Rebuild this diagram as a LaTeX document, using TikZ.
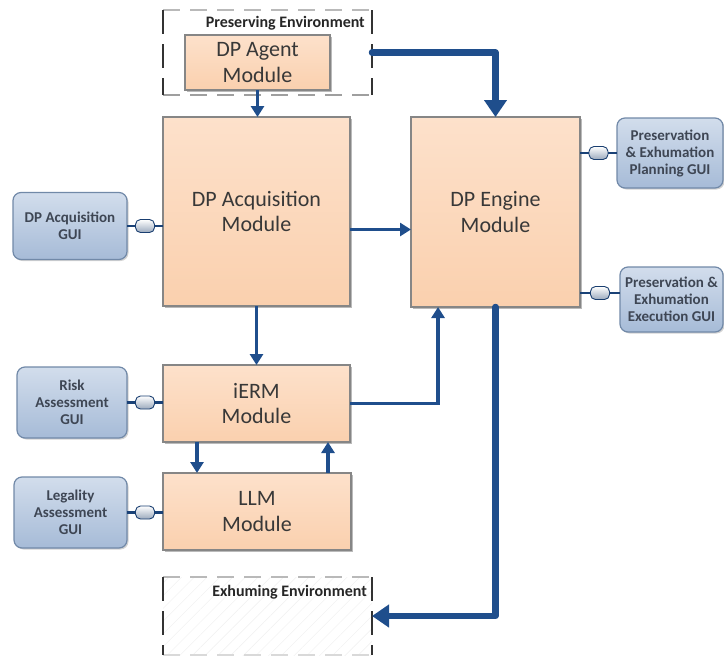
\documentclass[tikz,border=0pt]{standalone}
\usepackage{fontspec}
\setmainfont{Carlito}
\usetikzlibrary{arrows.meta,calc,shadows,patterns.meta}

\definecolor{modfill}{HTML}{FAD0AE}
\definecolor{modtop}{HTML}{FDE1CB}
\definecolor{modedge}{HTML}{868686}
\definecolor{guitop}{HTML}{D2DDEC}
\definecolor{guibot}{HTML}{A6BBD7}
\definecolor{guiedge}{HTML}{7189A8}
\definecolor{flow}{HTML}{1F4E8C}
\definecolor{txt}{HTML}{383838}
\definecolor{guitxt}{HTML}{3E4654}

\tikzset{
  module/.style={draw=modedge, line width=1.2pt, top color=modtop, bottom color=modfill,
    text=txt, align=center, inner sep=0pt, outer sep=0pt,
    font=\fontsize{22}{25.5}\selectfont,
    drop shadow={shadow xshift=1.8pt, shadow yshift=-1.8pt, fill=black!60, opacity=0.45}},
  gui/.style={draw=guiedge, line width=1.2pt, rounded corners=8pt, top color=guitop,
    bottom color=guibot, text=guitxt, align=center, inner sep=0pt, outer sep=0pt,
    font=\bfseries\fontsize{15}{17}\selectfont,
    drop shadow={shadow xshift=1.5pt, shadow yshift=-1.5pt, fill=black!50, opacity=0.35}},
  flowarrow/.style={draw=flow, line width=3.2pt, -{Triangle[length=11pt,width=13pt]}},
  bigflow/.style={draw=flow, line width=6.5pt, line join=round, line cap=round,
    -{Triangle[length=17pt,width=22pt]}},
  plug/.style={draw=flow!85!black, line width=2.6pt},
  socket/.style={draw=flow!80!black, line width=0.9pt, rounded corners=5pt,
    top color=white, bottom color=guibot!70!gray, minimum width=19pt,
    minimum height=13pt, inner sep=0pt},
  envlabel/.style={font=\bfseries\fontsize{16}{18}\selectfont, text=black!85,
    anchor=east, inner sep=0pt},
  envtopedge/.style={draw=gray!55, line width=2pt, dash pattern=on 17pt off 10pt},
  envside/.style={draw=black!80, line width=1.3pt, dash pattern=on 24pt off 10pt},
  envframe/.style={draw=none, inner sep=0pt, outer sep=0pt},
}

\begin{document}
\begin{tikzpicture}[x=1pt,y=-1pt]
  \useasboundingbox (0,0) rectangle (724,657);

  % environments (dashed frames)
  \node[envframe, minimum width=209pt, minimum height=85pt] (preserve) at (267.5,52.5) {};
  \draw[envtopedge] (preserve.north west) -- (preserve.north east);
  \draw[envtopedge, draw=gray!75] (preserve.south west) -- (preserve.south east);
  \draw[envside] (preserve.north west) -- (preserve.south west);
  \draw[envside] (preserve.north east) -- (preserve.south east);
  \node[envlabel] (preslabel) at (365,23) {Preserving Environment};

  \node[envframe, minimum width=209pt, minimum height=78pt,
        pattern={Lines[angle=45,distance=9pt,line width=0.6pt]}, pattern color=gray!10]
        (exhume) at (267.5,616) {};
  \draw[envtopedge] (exhume.north west) -- (exhume.north east);
  \draw[envtopedge, draw=gray!30] (exhume.south west) -- (exhume.south east);
  \draw[envside] (exhume.north west) -- (exhume.south west);
  \draw[envside] (exhume.north east) -- (exhume.south east);
  \node[envlabel] (exhlabel) at (367,592) {Exhuming Environment};

  % modules
  \node[module, minimum width=145pt, minimum height=55pt] (agent) at (257.5,62.5) {DP Agent\\Module};
  \node[module, minimum width=187pt, minimum height=189pt] (acq) at (256.5,211.5) {DP Acquisition\\Module};
  \node[module, minimum width=169pt, minimum height=190pt] (engine) at (495.5,212) {DP Engine\\Module};
  \node[module, minimum width=187pt, minimum height=77pt] (ierm) at (256.5,403.5) {iERM\\Module};
  \node[module, minimum width=188pt, minimum height=77pt] (llm) at (257,511.5) {LLM\\Module};

  % user interfaces
  \node[gui, minimum width=114pt, minimum height=67pt] (guiacq) at (70,226) {DP Acquisition\\GUI};
  \node[gui, minimum width=110pt, minimum height=71pt] (guirisk) at (72,402.5) {Risk\\Assessment\\GUI};
  \node[gui, minimum width=113pt, minimum height=71pt] (guilegal) at (70.5,512.5) {Legality\\Assessment\\GUI};
  \node[gui, minimum width=106pt, minimum height=70pt] (guiplan) at (670,153) {Preservation\\\& Exhumation\\Planning GUI};
  \node[gui, minimum width=103pt, minimum height=65pt] (guiexec) at (671.5,299.5) {Preservation \&\\Exhumation\\Execution GUI};

  % interface plugs
  \draw[plug] (guiacq.east) -- (guiacq.east -| acq.west) node[socket, midway] (sockacq) {};
  \draw[plug] (guirisk.east) -- (guirisk.east -| ierm.west) node[socket, midway] (sockrisk) {};
  \draw[plug] (guilegal.east) -- (guilegal.east -| llm.west) node[socket, midway] (socklegal) {};
  \draw[plug] (guiplan.west) -- (guiplan.west -| engine.east) node[socket, midway] (sockplan) {};
  \coordinate (execlvl) at (0,293);
  \draw[plug] (guiexec.west |- execlvl) -- (engine.east |- execlvl) node[socket, midway] (sockexec) {};

  % data flows
  \draw[flowarrow] (agent.south) -- (agent.south |- acq.north);
  \draw[flowarrow] ($(acq.east)+(0,18)$) -- ($(engine.west)+(0,17.5)$);
  \draw[flowarrow] (acq.south) -- (acq.south |- ierm.north);
  \draw[flowarrow] ($(ierm.south west)+(34,0)$) -- ($(llm.north west)+(34,0)$);
  \draw[flowarrow] ($(llm.north east)+(-23,0)$) -- ($(ierm.south east)+(-22,0)$);
  \draw[flowarrow] (ierm.east) -| ($(engine.south west)!0.16!(engine.south east)$);

  \draw[bigflow] (preserve.east) -| (engine.north);
  \draw[bigflow] (engine.south) |- (exhume.east);
\end{tikzpicture}
\end{document}
